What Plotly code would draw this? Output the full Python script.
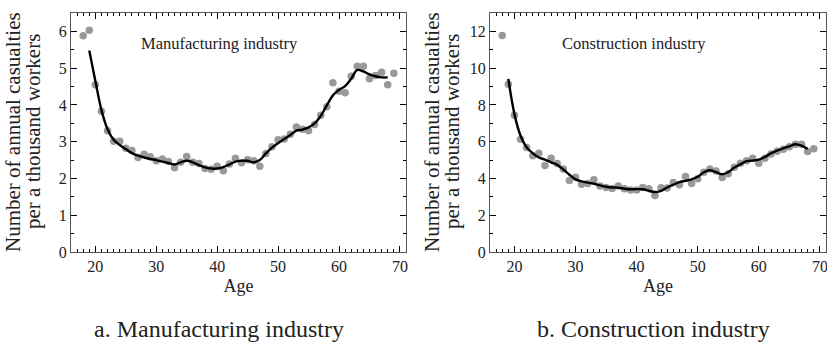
import plotly.graph_objects as go

# ---------------- data ----------------
ages = list(range(18, 70))
manuf_obs = [5.88, 6.03, 4.55, 3.83, 3.30, 3.01, 3.01, 2.82, 2.76, 2.57,
             2.66, 2.59, 2.48, 2.53, 2.46, 2.29, 2.44, 2.60, 2.44, 2.41,
             2.27, 2.25, 2.33, 2.21, 2.39, 2.55, 2.43, 2.51, 2.48, 2.33,
             2.68, 2.86, 3.05, 3.07, 3.20, 3.40, 3.34, 3.30, 3.47, 3.72,
             3.95, 4.60, 4.37, 4.33, 4.78, 5.05, 5.05, 4.71, 4.80, 4.89,
             4.55, 4.86]
smooth_ages = list(range(19, 69))
manuf_fit = [5.48, 4.65, 3.86, 3.34, 3.05, 2.91, 2.80, 2.69, 2.62, 2.57,
             2.53, 2.50, 2.46, 2.42, 2.38, 2.44, 2.48, 2.44, 2.36, 2.30,
             2.27, 2.27, 2.31, 2.38, 2.46, 2.48, 2.48, 2.44, 2.50, 2.68,
             2.84, 2.96, 3.07, 3.18, 3.30, 3.33, 3.39, 3.50, 3.70, 3.99,
             4.26, 4.41, 4.51, 4.71, 4.95, 4.91, 4.83, 4.78, 4.75, 4.75]
constr_obs = [11.78, 9.12, 7.44, 6.13, 5.68, 5.24, 5.37, 4.70, 5.10, 4.81,
              4.52, 3.89, 4.07, 3.69, 3.73, 3.93, 3.59, 3.51, 3.46, 3.59,
              3.44, 3.37, 3.37, 3.51, 3.44, 3.08, 3.50, 3.48, 3.78, 3.66,
              4.11, 3.73, 3.98, 4.34, 4.52, 4.41, 4.05, 4.25, 4.61, 4.83,
              4.97, 5.10, 4.83, 5.10, 5.33, 5.48, 5.59, 5.73, 5.86, 5.86,
              5.46, 5.62]
constr_fit = [9.42, 7.50, 6.32, 5.69, 5.37, 5.14, 5.03, 4.88, 4.74, 4.49,
              4.20, 3.95, 3.84, 3.77, 3.71, 3.62, 3.55, 3.51, 3.50, 3.44,
              3.41, 3.42, 3.41, 3.33, 3.26, 3.33, 3.51, 3.66, 3.80, 3.87,
              3.95, 4.09, 4.34, 4.45, 4.34, 4.23, 4.34, 4.59, 4.77, 4.94,
              4.97, 5.03, 5.17, 5.37, 5.51, 5.64, 5.75, 5.86, 5.78, 5.60]

x_ticks = [20, 30, 40, 50, 60, 70]
manuf_yticks = [0, 1, 2, 3, 4, 5, 6]
constr_yticks = [0, 2, 4, 6, 8, 10, 12]
inner_labels = ["Manufacturing industry", "Construction industry"]
captions = ["a. Manufacturing industry", "b. Construction industry"]
y_title_lines = ["Number of annual casualties", "per a thousand workers"]

# ---------------- figure ----------------
W, H = 827, 343
FONT = "Liberation Serif"
PT_COLOR = "#999999"
TXT = "#222"

fig = go.Figure()
fig.add_trace(go.Scatter(x=ages, y=manuf_obs, mode="markers",
                         marker=dict(size=7.5, color=PT_COLOR), xaxis="x", yaxis="y"))
fig.add_trace(go.Scatter(x=smooth_ages, y=manuf_fit, mode="lines",
                         line=dict(color="black", width=2.4, shape="spline"),
                         xaxis="x", yaxis="y"))
fig.add_trace(go.Scatter(x=ages, y=constr_obs, mode="markers",
                         marker=dict(size=7.5, color=PT_COLOR), xaxis="x2", yaxis="y2"))
fig.add_trace(go.Scatter(x=smooth_ages, y=constr_fit, mode="lines",
                         line=dict(color="black", width=2.4, shape="spline"),
                         xaxis="x2", yaxis="y2"))

px = lambda v: v / W
py = lambda v: 1 - v / H

ydom = [py(252), py(13)]
xdom1 = [px(71), px(406)]
xdom2 = [px(490), px(826)]

common_x = dict(range=[16, 71], tickvals=x_ticks, ticks="inside", ticklen=6,
                tickcolor="black", showline=True, linecolor="#555", linewidth=1.2,
                mirror="ticks", showgrid=False, zeroline=False, automargin=False,
                ticklabeloverflow="allow",
                tickfont=dict(family=FONT, size=16, color=TXT),
                minor=dict(dtick=1, ticks="inside", ticklen=3, tickcolor="black",
                           showgrid=False),
                title=dict(text="Age", font=dict(family=FONT, size=18, color=TXT),
                           standoff=5))
common_y = dict(ticks="inside", ticklen=6, tickcolor="black", showline=True,
                linecolor="#555", linewidth=1.2, mirror="ticks", showgrid=False,
                zeroline=False, automargin=False,
                tickfont=dict(family=FONT, size=16, color=TXT))

fig.update_layout(
    width=W, height=H, margin=dict(l=0, r=0, t=0, b=0),
    paper_bgcolor="white", plot_bgcolor="white", showlegend=False,
    xaxis=dict(domain=xdom1, anchor="y", **common_x),
    xaxis2=dict(domain=xdom2, anchor="y2", **common_x),
    yaxis=dict(domain=ydom, anchor="x", range=[0, 6.5], tickvals=manuf_yticks,
               minor=dict(dtick=0.5, ticks="inside", ticklen=3, tickcolor="black",
                          showgrid=False), **common_y),
    yaxis2=dict(domain=ydom, anchor="x2", range=[0, 13], tickvals=constr_yticks,
                minor=dict(dtick=1, ticks="inside", ticklen=3, tickcolor="black",
                           showgrid=False), **common_y),
)

def note(xc, yc, text, size, angle=0, yanchor="middle"):
    fig.add_annotation(x=px(xc), y=py(yc), xref="paper", yref="paper", text=text,
                       xanchor="center", yanchor=yanchor, textangle=angle,
                       showarrow=False, font=dict(family=FONT, size=size, color=TXT))

# inner labels
note(219, 43, inner_labels[0], 16.5)
note(634, 43, inner_labels[1], 16.5)
# y titles (two lines each)
for x0 in (71, 490):
    note(x0 - 58, 132, y_title_lines[0], 21, -90)
    note(x0 - 38, 132, y_title_lines[1], 21, -90)
# captions
note(219, 344, captions[0], 24, yanchor="bottom")
note(653, 344, captions[1], 24, yanchor="bottom")

fig.write_html("out.html")
